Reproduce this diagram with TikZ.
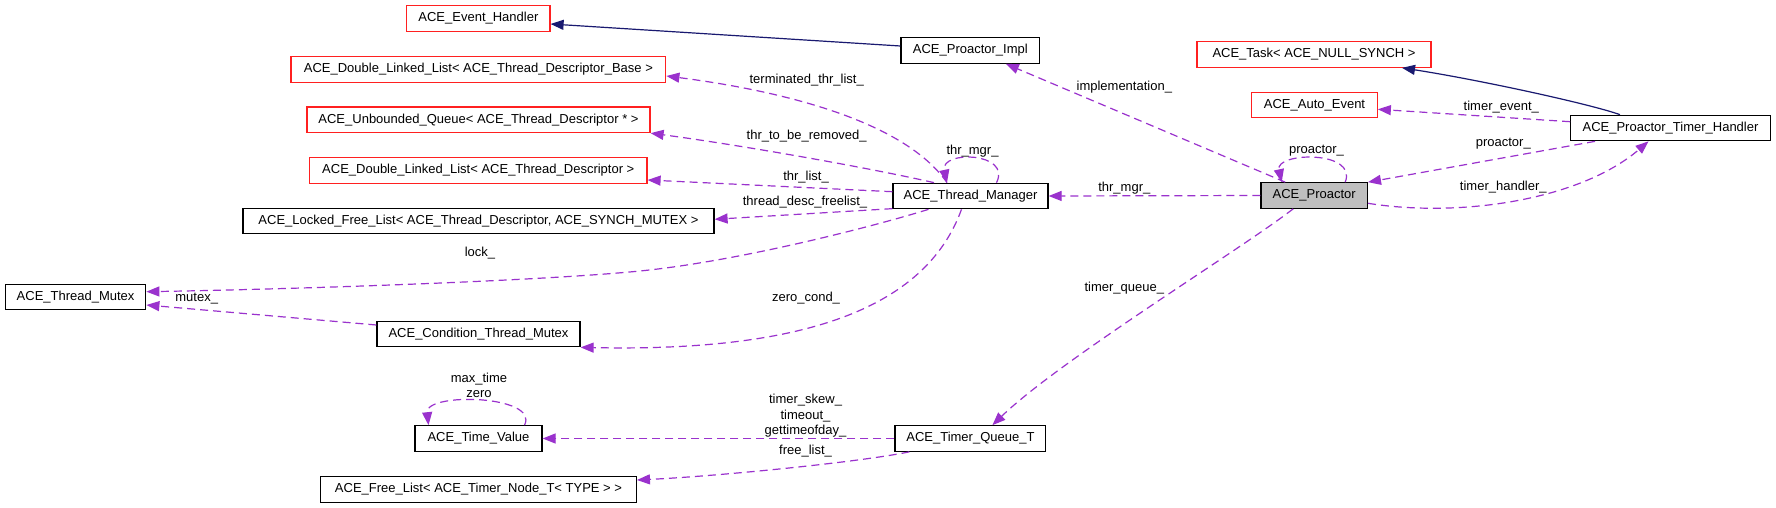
\documentclass[tikz,border=0pt]{standalone}
\usepackage{fontspec}
\setmainfont{Liberation Sans}
\usetikzlibrary{arrows.meta}
\definecolor{boxred}{HTML}{FF2020}
\definecolor{purp}{HTML}{9A32CD}
\definecolor{navy}{HTML}{191970}
\definecolor{gfill}{HTML}{BFBFBF}
\tikzset{
  box/.style={draw=black, line width=1.2pt, minimum height=25.5pt, inner xsep=0pt, inner ysep=0pt,
    font=\fontsize{13}{15}\selectfont, text height=9.5pt, text depth=2.7pt, fill=white},
  redbox/.style={box, draw=boxred},
  greybox/.style={box, fill=gfill},
  lbl/.style={inner sep=0pt, align=center, font=\fontsize{13}{15.5}\selectfont},
  dep/.style={draw=purp, line width=1.2pt, dash pattern=on 8pt off 5pt, -{Triangle[length=13pt,width=10pt]}},
  inh/.style={draw=navy, line width=1.2pt, -{Triangle[length=13pt,width=10pt]}},
}
\begin{document}
\begin{tikzpicture}[x=1pt,y=-1pt]
\useasboundingbox[fill=white] (0,0) rectangle (1776,508);
% nodes
\node[redbox, minimum width=143.2pt] (eh) at (478.4,18.5) {ACE\_Event\_Handler};
\node[redbox, minimum width=374.8pt] (dllb) at (478.4,69.5) {ACE\_Double\_Linked\_List< ACE\_Thread\_Descriptor\_Base >};
\node[redbox, minimum width=343pt] (uq) at (478.5,119.8) {ACE\_Unbounded\_Queue< ACE\_Thread\_Descriptor * >};
\node[redbox, minimum width=337.4pt] (dlld) at (478.3,170.5) {ACE\_Double\_Linked\_List< ACE\_Thread\_Descriptor >};
\node[box, minimum width=471pt] (lfl) at (478.5,221) {ACE\_Locked\_Free\_List< ACE\_Thread\_Descriptor, ACE\_SYNCH\_MUTEX >};
\node[box, minimum width=140.4pt] (tmx) at (75.6,297) {ACE\_Thread\_Mutex};
\node[box, minimum width=203pt] (ctm) at (478.5,334) {ACE\_Condition\_Thread\_Mutex};
\node[box, minimum width=127pt] (tv) at (478.5,438.5) {ACE\_Time\_Value};
\node[box, minimum width=315.7pt] (fl) at (478.5,489.5) {ACE\_Free\_List< ACE\_Timer\_Node\_T< TYPE > >};
\node[box, minimum width=138.7pt] (pi) at (970.3,50.5) {ACE\_Proactor\_Impl};
\node[box, minimum width=155pt] (tm) at (970.5,196) {ACE\_Thread\_Manager};
\node[box, minimum width=150.8pt] (tq) at (970.4,438.5) {ACE\_Timer\_Queue\_T};
\node[redbox, minimum width=234pt] (task) at (1314,54.5) {ACE\_Task< ACE\_NULL\_SYNCH >};
\node[redbox, minimum width=125.5pt] (ae) at (1314.5,105) {ACE\_Auto\_Event};
\node[greybox, minimum width=106.4pt] (pr) at (1314.2,195.5) {ACE\_Proactor};
\node[box, minimum width=199.7pt] (th) at (1670.5,128) {ACE\_Proactor\_Timer\_Handler};
% inheritance
\draw[inh] ([yshift=4.5pt]pi.west) -- ([yshift=-5.5pt]eh.east);
\draw[inh] ([xshift=-50.5pt]th.north) .. controls (1590,104) and (1480,80) .. ([xshift=88pt]task.south);
% usage
\draw[dep] ([xshift=-23.5pt]tm.north) .. controls (900,115) and (760,88) .. ([yshift=-6.5pt]dllb.east);
\draw[dep] ([xshift=-36.5pt]tm.north) .. controls (870,168) and (740,145) .. (uq.south east);
\draw[dep] ([yshift=4.3pt]tm.west) -- ([yshift=-9.5pt]dlld.east);
\draw[dep] ([yshift=0.7pt]tm.south west) -- ([yshift=1.7pt]lfl.east);
\coordinate (lockmid) at (640,271);
\draw[dep] ([xshift=-42pt]tm.south) .. controls (875,226) and (740,261) .. (lockmid) .. controls (540,281) and (300,289) .. ([yshift=5.3pt]tmx.east);
\draw[dep] ([xshift=-9pt]tm.south) .. controls (925,310) and (800,352) .. (ctm.south east);
\draw[dep] ([yshift=9pt]ctm.west) -- ([yshift=-8pt]tmx.east);
\draw[dep] ([xshift=26pt]tm.north) .. controls (1012,152) and (940,150) .. ([xshift=-23.5pt]tm.north);
\draw[dep] (pr.west) -- (tm.east);
\draw[dep] ([xshift=-29pt]pr.north) -- ([xshift=35.5pt]pi.south);
\draw[dep] ([xshift=31pt]pr.north) .. controls (1358,150) and (1275,152) .. ([xshift=-32.5pt]pr.north);
\draw[dep] ([xshift=-21pt]pr.south) .. controls (1240,250) and (1060,360) .. ([xshift=22pt]tq.north);
\draw[dep] ([yshift=6.3pt]th.west) -- ([yshift=-4.3pt]ae.east);
\draw[dep] ([xshift=-75.5pt]th.south) -- (pr.north east);
\draw[dep] ([yshift=-7.8pt]pr.east) .. controls (1460,218) and (1580,200) .. ([xshift=-22pt]th.south);
\draw[dep] (tq.west) -- (tv.east);
\draw[dep] ([xshift=15pt]tq.south west) .. controls (860,462) and (720,476) .. ([yshift=9.5pt]fl.east);
\draw[dep] ([xshift=46pt]tv.north) .. controls (540,395) and (425,392) .. ([xshift=-50pt]tv.north);
% labels
\node[lbl] (l1) at (806.7,80) {terminated\_thr\_list\_};
\node[lbl] (l2) at (806.7,136) {thr\_to\_be\_removed\_};
\node[lbl] (l3) at (806,176.7) {thr\_list\_};
\node[lbl] (l4) at (805,202.3) {thread\_desc\_freelist\_};
\node[lbl] (l5) at (480,252.7) {lock\_};
\node[lbl] (l6) at (806,298.3) {zero\_cond\_};
\node[lbl] (l7) at (196.7,299) {mutex\_};
\node[lbl] (l8) at (972.5,151) {thr\_mgr\_};
\node[lbl] (l9) at (1124.3,187.7) {thr\_mgr\_};
\node[lbl] (l10) at (1124.3,87.3) {implementation\_};
\node[lbl] (l11) at (1316.5,151) {proactor\_};
\node[lbl] (l12) at (1124.3,287.7) {timer\_queue\_};
\node[lbl] (l13) at (1501.3,106.7) {timer\_event\_};
\node[lbl] (l14) at (1503.3,144) {proactor\_};
\node[lbl] (l15) at (1503.3,186.7) {timer\_handler\_};
\node[lbl] (l16) at (805.5,416) {timer\_skew\_\\timeout\_\\gettimeofday\_};
\node[lbl] (l17) at (805.5,450.7) {free\_list\_};
\node[lbl] (l18) at (479,385.5) {max\_time\\zero};
\end{tikzpicture}
\end{document}
